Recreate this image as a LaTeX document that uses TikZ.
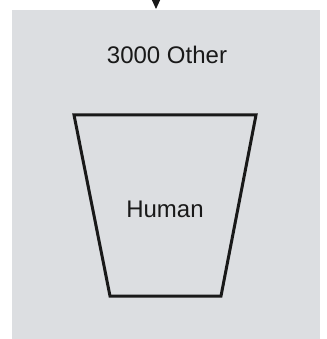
\documentclass[tikz,border=0pt]{standalone}
\usepackage{fontspec}
\setmainfont{Liberation Sans}
\usetikzlibrary{arrows.meta}
\definecolor{panel}{RGB}{220,222,225}
\tikzset{
  lbl/.style={font=\fontsize{24}{28}\selectfont, text=black!90, inner sep=0pt},
  cup/.style={draw=black!90, line width=3pt, line join=miter}
}
\begin{document}
\begin{tikzpicture}[x=1pt,y=-1pt]
\useasboundingbox (0,0) rectangle (326,339);
\fill[panel] (12,10) rectangle (320,339);
\coordinate (src) at (156,-6);
\coordinate (tip) at (156,9);
\draw[black!90, line width=1pt, -{Triangle[length=9pt,width=8pt]}] (src) -- (tip);
\node[lbl] (other) at (167,55) {3000 Other};
\draw[cup] (74,115) -- (256,115) -- (221,296) -- (110,296) -- cycle;
\node[lbl] (human) at (165,209) {Human};
\end{tikzpicture}
\end{document}
